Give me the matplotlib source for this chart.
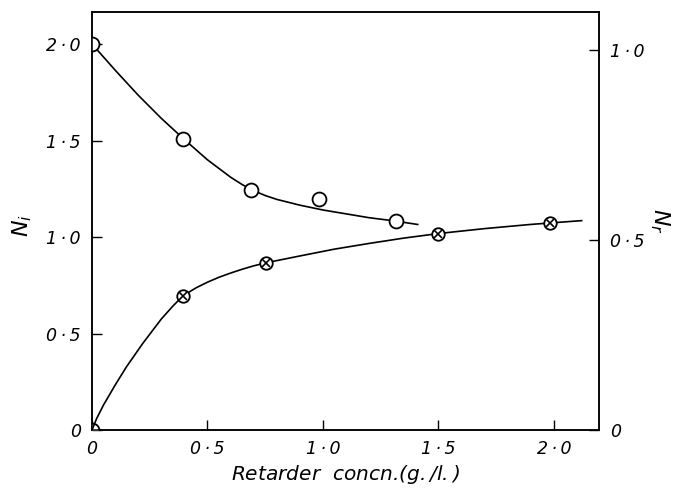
import numpy as np
import matplotlib
matplotlib.use("Agg")
import matplotlib.pyplot as pp
from matplotlib.ticker import FixedLocator, FuncFormatter

config={
'font.family':'DejaVu Sans',
'font.style':'italic',
'font.size':12,
'axes.linewidth':1.1,
'xtick.direction':'in',
'ytick.direction':'in',
'xtick.major.size':7,
'ytick.major.size':7,
'xtick.major.width':1.0,
'ytick.major.width':1.0,
'xtick.major.pad':7,
'ytick.major.pad':8,
}
pp.rcParams.update(config)

# N_i (left axis), open circles
ni_x=[0.0, 0.394, 0.687, 0.984, 1.316]
ni_y=[2.0, 1.506, 1.243, 1.197, 1.083]
ni_curve_x=[0.0, 0.1, 0.2, 0.3, 0.4, 0.5, 0.6, 0.65, 0.7, 0.75, 0.8, 0.9, 1.0, 1.1,
            1.2, 1.3, 1.41]
ni_curve_y=[2.0, 1.865, 1.735, 1.615, 1.505, 1.40, 1.31, 1.272, 1.24, 1.215, 1.195,
            1.165, 1.14, 1.12, 1.10, 1.085, 1.065]

# N_r (right axis), crossed circles
nr_x=[0.394, 0.753, 1.498, 1.983]
nr_y=[0.353, 0.440, 0.517, 0.545]
nr_curve_x=[0.0, 0.02, 0.05, 0.1, 0.15, 0.22, 0.3, 0.35, 0.394, 0.45, 0.5, 0.55, 0.6,
            0.65, 0.7, 0.753, 0.9, 1.05, 1.2, 1.35, 1.5, 1.7, 1.9, 2.12]
nr_curve_y=[0.0, 0.03, 0.066, 0.118, 0.167, 0.228, 0.292, 0.326, 0.353, 0.374, 0.389,
            0.402, 0.413, 0.423, 0.432, 0.44, 0.458, 0.476, 0.491, 0.505, 0.517, 0.530,
            0.541, 0.551]
origin_x=[0.0]
origin_y=[0.0]

x_ticks=[0, 0.5, 1.0, 1.5, 2.0]
ni_ticks=[0, 0.5, 1.0, 1.5, 2.0]
nr_ticks=[0, 0.5, 1.0]

def dotfmt(v, pos):
    if abs(v)<1e-9:
        return '0'
    return ('%.1f' % v).replace('.', '\u2009\u00b7\u2009')

fig=pp.figure(figsize=(6.77,4.95), dpi=100)
ax=fig.add_axes([92/677, 65/495, (599-92)/677, (430-12)/495])
ax2=ax.twinx()

ax.set_xlim(0, 2.195)
ax.set_ylim(0, 2.166)
ax2.set_ylim(0, 1.10)

ax.plot(ni_curve_x, ni_curve_y, c='k', lw=1.2, zorder=2)
pts=ax.plot(ni_x, ni_y, lw=0, marker='o', ms=10, mfc='white', mec='k', mew=1.3, zorder=3)
org=ax.plot(origin_x, origin_y, lw=0, marker='o', ms=10, mfc='white', mec='k', mew=1.3, zorder=3)
for l in pts+org:
    l.set_clip_path(ax.patch)

ax2.plot(nr_curve_x, nr_curve_y, c='k', lw=1.2, zorder=2)
ax2.plot(nr_x, nr_y, lw=0, marker='o', ms=9, mfc='white', mec='k', mew=1.3, zorder=3)
ax2.plot(nr_x, nr_y, lw=0, marker='x', ms=6, mec='k', mew=1.2, zorder=4)

ax.xaxis.set_major_locator(FixedLocator(x_ticks))
ax.yaxis.set_major_locator(FixedLocator(ni_ticks))
ax2.yaxis.set_major_locator(FixedLocator(nr_ticks))
for a in (ax.xaxis, ax.yaxis, ax2.yaxis):
    a.set_major_formatter(FuncFormatter(dotfmt))
ax.tick_params(top=False, right=False, labelsize=12.5)
ax2.tick_params(labelsize=12.5)

ax.set_xlabel('Retarder  concn.$\\left(\\mathit{g./l.}\\right)$', fontsize=14.5, labelpad=4)
ax.set_ylabel('$N_i$', fontsize=16, va='center')
ax.yaxis.set_label_coords(-0.138, 0.49)
ax2.set_ylabel('$N_r$', fontsize=16, rotation=270, va='center')
ax2.yaxis.set_label_coords(1.12, 0.5)

fig.savefig('out.png', dpi=100)
